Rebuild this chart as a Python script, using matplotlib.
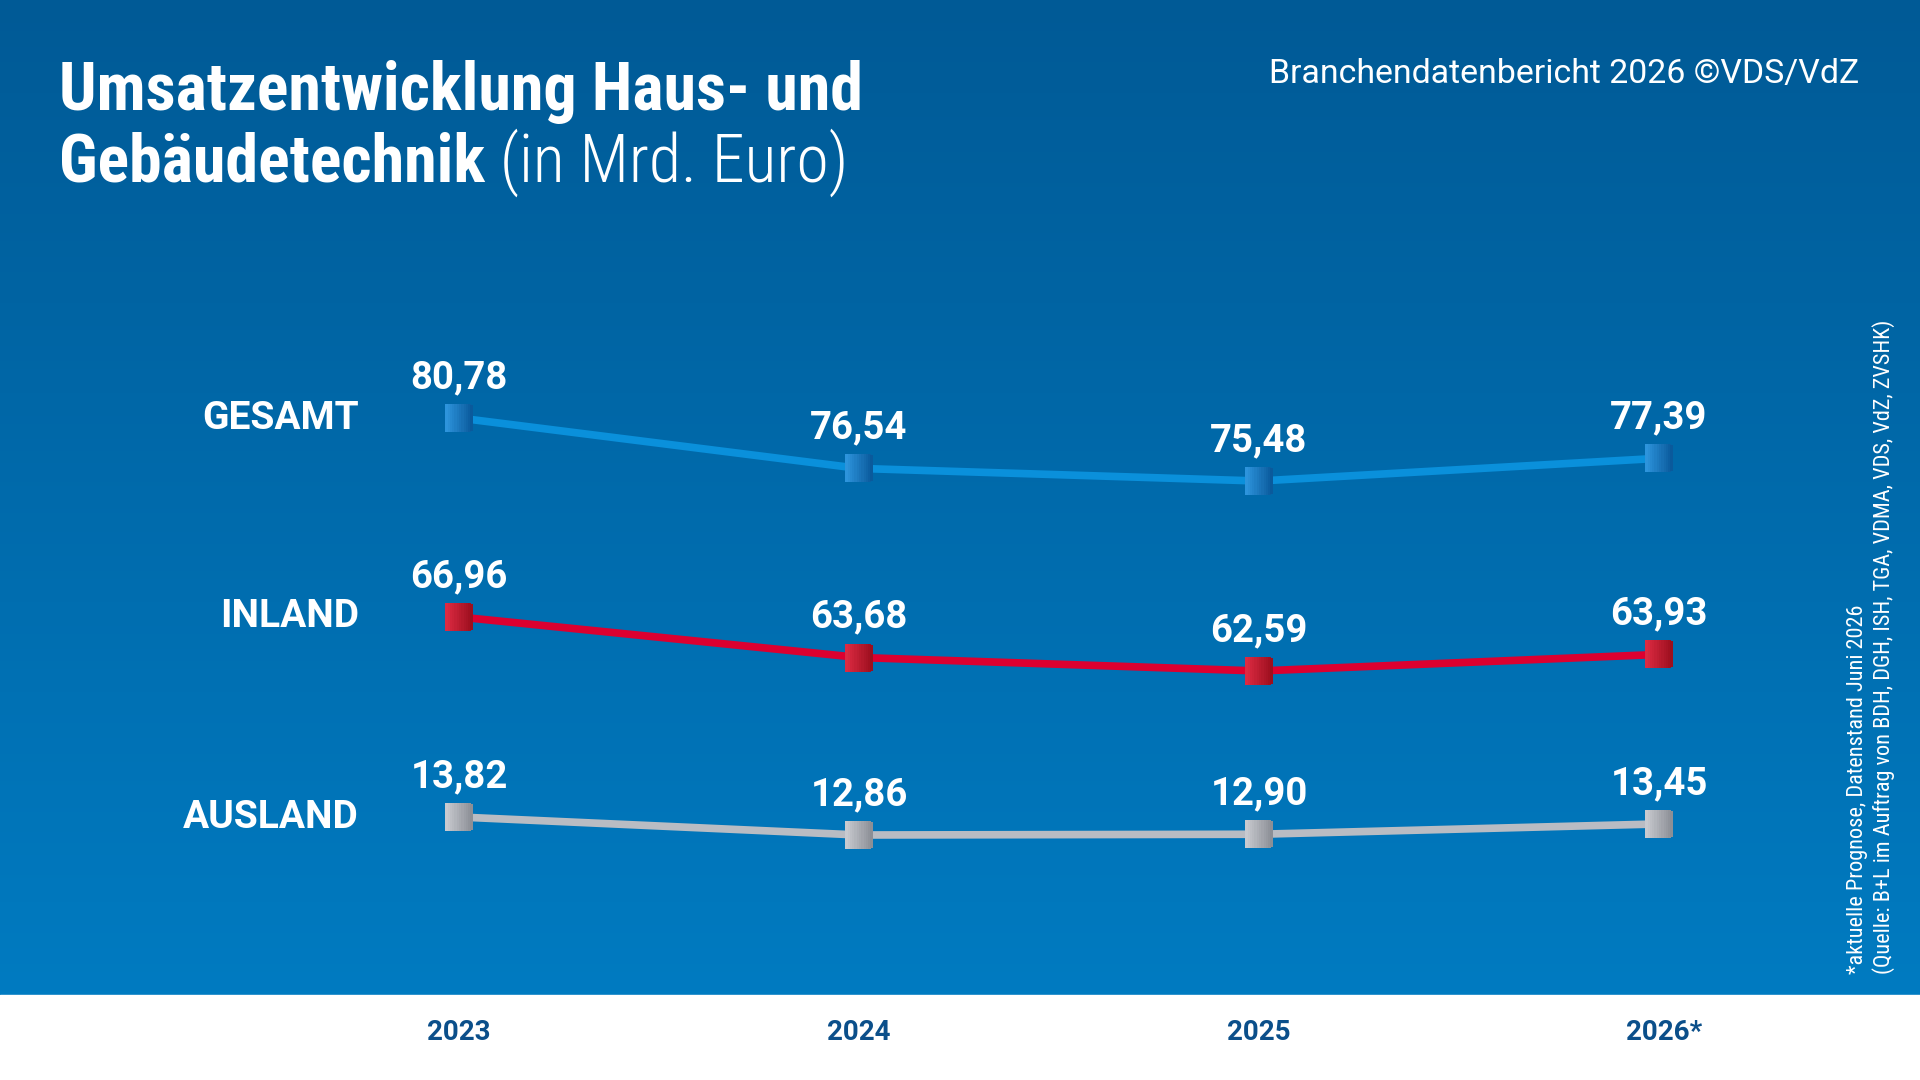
import matplotlib
matplotlib.use("Agg")
import matplotlib.pyplot as plt
import numpy as np
from matplotlib import font_manager
from matplotlib.colors import to_rgb
from matplotlib.transforms import blended_transform_factory

# Daten
years = ["2023", "2024", "2025", "2026*"]
series_names = ["GESAMT", "INLAND", "AUSLAND"]
gesamt = [80.78, 76.54, 75.48, 77.39]
inland = [66.96, 63.68, 62.59, 63.93]
ausland = [13.82, 12.86, 12.90, 13.45]

title_bold_1 = "Umsatzentwicklung Haus- und"
title_bold_2 = "Gebäudetechnik"
title_light = " (in Mrd. Euro)"
header_right = "Branchendatenbericht 2026 ©VDS/VdZ"
source_lines = ["*aktuelle Prognose, Datenstand Juni 2026",
                "(Quelle: B+L im Auftrag von BDH, DGH, ISH, TGA, VDMA, VDS, VdZ, ZVSHK)"]

installed = {f.name for f in font_manager.fontManager.ttflist}
cond = "Roboto Condensed" if "Roboto Condensed" in installed else (
    "Liberation Sans Narrow" if "Liberation Sans Narrow" in installed else "Roboto")
plt.rcParams["font.family"] = ["Roboto", "DejaVu Sans"]

W, H = 1920, 1080
BAND = 995  # Unterkante blauer Bereich (px von oben)
fig = plt.figure(figsize=(W / 100, H / 100), dpi=100)

# Hintergrund: Verlauf oben dunkel, unten heller, weisser Streifen
bg = fig.add_axes([0, 0, 1, 1])
grad = np.linspace(0, 1, 256).reshape(-1, 1)
top = np.array([0x00, 0x5a, 0x96]) / 255
bot = np.array([0x00, 0x7b, 0xc1]) / 255
img = top + (bot - top) * grad[:, :, None]
bg.imshow(img, extent=[0, 1, H - BAND, H], aspect="auto", origin="upper")
bg.axhspan(0, H - BAND, color="white")
bg.set_xlim(0, 1)
bg.set_ylim(0, H)
bg.axis("off")

def px_rect(x0, y0, x1, y1):
    # Pixelbox (oben links) -> Figure-Anteile
    return [x0 / W, 1 - y1 / H, (x1 - x0) / W, (y1 - y0) / H]

styles = {
    "GESAMT": dict(line="#0a90db", light="#2d94dc", dark="#0a5a9c", ylim=(31.83, 94.91)),
    "INLAND": dict(line="#dc0030", light="#dc2a42", dark="#9c0f1e", ylim=(35.97, 96.65)),
    "AUSLAND": dict(line="#b9bcc3", light="#c8cad0", dark="#8c8f96", ylim=(4.06, 44.06)),
}
data = {"GESAMT": gesamt, "INLAND": inland, "AUSLAND": ausland}
x = np.arange(len(years))

# Quadrat-Marker mit horizontalem Verlauf: schmale senkrechte Streifen
N_STRIPS = 12
strips = []
for i in range(N_STRIPS):
    x0 = -1 + 2 * i / N_STRIPS
    x1 = -1 + 2 * (i + 1) / N_STRIPS + 0.02
    strips.append([(x0, -1), (x1, -1), (x1, 1), (x0, 1), (x0, -1)])

axes = []
for name in series_names:
    ax = fig.add_axes(px_rect(300, 250, 1818, 1000))
    ax.set_facecolor("none")
    st = styles[name]
    vals = data[name]
    ax.plot(x, vals, color=st["line"], lw=5.5, solid_capstyle="butt", zorder=2)
    c0, c1 = np.array(to_rgb(st["light"])), np.array(to_rgb(st["dark"]))
    for i, verts in enumerate(strips):
        col = c0 + (c1 - c0) * i / (N_STRIPS - 1)
        ax.plot(x, vals, ls="none", marker=verts, ms=19.5, mew=0,
                markerfacecolor=col, zorder=3)
    for xi, v in zip(x, vals):
        ax.annotate(f"{v:.2f}".replace(".", ","), (xi, v), xytext=(0, 29),
                    textcoords="offset points", ha="center", va="center",
                    color="white", fontsize=27.5, fontweight="bold")
    ax.annotate(name, (x[0], vals[0]), xytext=(-72, 0), textcoords="offset points",
                ha="right", va="center", color="white", fontsize=28,
                fontweight="bold")
    ax.set_xlim(-0.3975, 3.3975)
    ax.set_ylim(*st["ylim"])
    ax.axis("off")
    axes.append(ax)

# Jahreszahlen im weissen Streifen
tr = blended_transform_factory(axes[0].transData, fig.transFigure)
for xi, yr in zip(x, years):
    shift = 0.012 if yr.endswith("*") else 0.0
    fig.text(xi + shift, 1 - 1033 / H, yr, transform=tr, ha="center", va="center",
             color="#0b4f8a", fontsize=20, fontweight="bold")

# Titel
t1 = fig.text(59 / W, 1 - 110 / H, title_bold_1, family=[cond, "DejaVu Sans"],
              fontsize=47.5, fontweight="bold", color="white", va="baseline")
t2 = fig.text(59 / W, 1 - 182 / H, title_bold_2, family=[cond, "DejaVu Sans"],
              fontsize=47.5, fontweight="bold", color="white", va="baseline")
fig.canvas.draw()
bb = t2.get_window_extent()
fig.text(bb.x1 / W, 1 - 182 / H, title_light, family=[cond, "DejaVu Sans"],
         fontsize=47.5, fontweight="light", color="white", va="baseline")

fig.text(1859 / W, 1 - 74 / H, header_right, ha="right", va="center",
         color="white", fontsize=24.4)

# Quelle, senkrecht
fig.text(1858 / W, 1 - 974 / H, source_lines[0], rotation=90, ha="center",
         va="bottom", color="white", fontsize=16, family=[cond, "DejaVu Sans"])
fig.text(1884 / W, 1 - 974 / H, source_lines[1], rotation=90, ha="center",
         va="bottom", color="white", fontsize=16, family=[cond, "DejaVu Sans"])

fig.savefig("out.png", dpi=100)
